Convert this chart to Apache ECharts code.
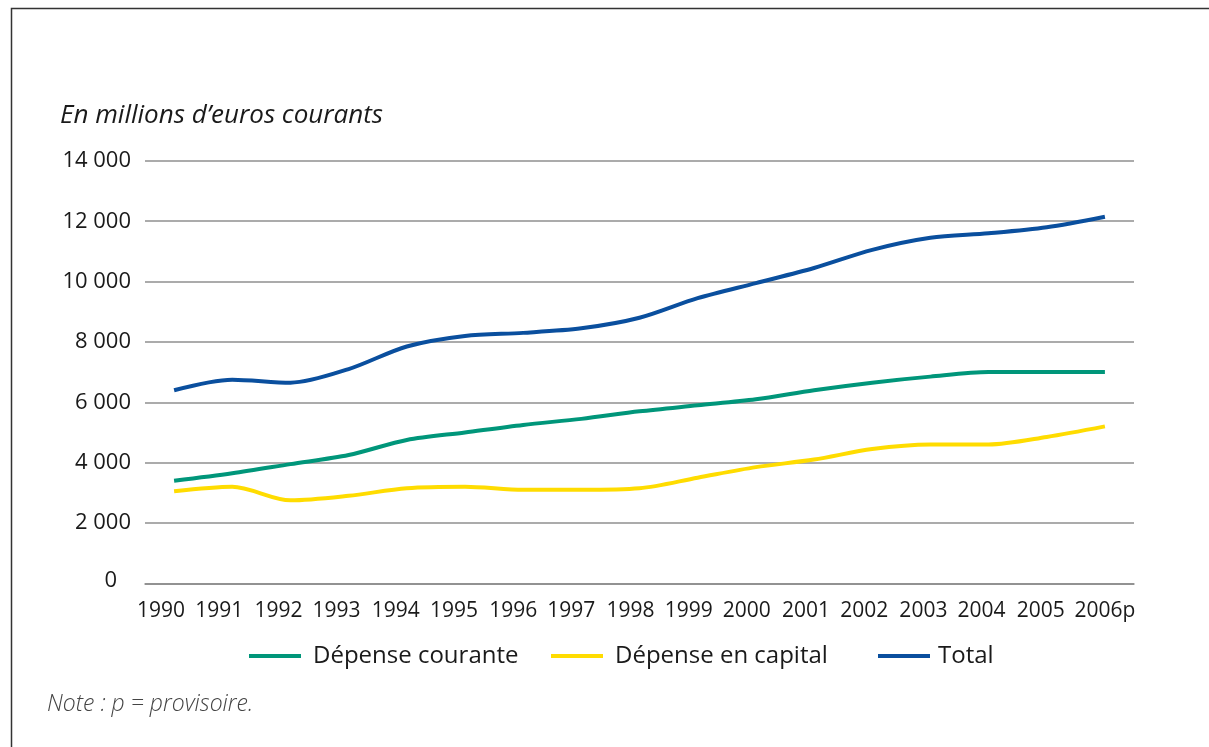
<!DOCTYPE html>
<html>
<head>
<meta charset="utf-8">
<script src="https://cdn.jsdelivr.net/npm/echarts@6/dist/echarts.min.js"></script>
<style>
  html, body { margin: 0; padding: 0; background: #fff; }
  #main { width: 1209px; height: 747px; }
</style>
</head>
<body>
<div id="main"></div>
<script>
// années (2006p = provisoire)
var years = ['1990', '1991', '1992', '1993', '1994', '1995', '1996', '1997', '1998',
  '1999', '2000', '2001', '2002', '2003', '2004', '2005', '2006p'];
// en millions d'euros courants
var courante = [3400, 3650, 3950, 4250, 4750, 5000, 5250, 5450, 5700, 5900, 6100, 6400, 6650, 6850, 7000, 7000, 7000];
var capital = [3050, 3200, 2750, 2900, 3150, 3200, 3100, 3100, 3150, 3500, 3850, 4100, 4450, 4600, 4600, 4850, 5200];
var total = [6400, 6750, 6650, 7100, 7850, 8200, 8300, 8450, 8800, 9450, 9950, 10450, 11050, 11450, 11600, 11800, 12150];
var yMin = 0, yMax = 14000, yStep = 2000;

var FONT = "'Open Sans', 'Noto Sans', sans-serif";
var cTeal = '#00967a', cYellow = '#ffdc00', cBlue = '#0a4f9e';

var chart = echarts.init(document.getElementById('main'), null, { renderer: 'canvas' });

function legendAt(name, left, gap) {
  return {
    data: [name],
    left: left - 5,
    top: 639,
    icon: 'rect',
    itemWidth: 52,
    itemHeight: 4,
    textStyle: { fontFamily: FONT, fontSize: 24, color: '#1a1a1a', padding: [0, 0, 0, gap] }
  };
}

// les étiquettes d'années d'Excel glissent un peu à gauche des graduations
var yearRich = {};
years.forEach(function (y, i) {
  var shift = i < years.length - 1 ? Math.round(13 - 0.45 * i) : 0;
  yearRich['y' + i] = { fontFamily: FONT, fontSize: 21, color: '#1a1a1a', padding: [0, shift * 2, 0, 0] };
});

var option = {
  animation: false,
  backgroundColor: '#fff',
  graphic: [
    { // cadre
      type: 'rect',
      shape: { x: 11.5, y: 8.5, width: 1400, height: 900 },
      style: { fill: 'none', stroke: '#333', lineWidth: 1.5 }
    },
    {
      type: 'text',
      left: 60, top: 103,
      style: { text: 'En millions d\u2019euros courants', font: 'italic 26px ' + FONT, fill: '#1a1a1a' }
    },
    {
      type: 'text',
      left: 47, top: 693,
      style: { text: 'Note : p = provisoire.', font: 'italic 300 23px ' + FONT, fill: '#444' }
    }
  ],
  legend: [
    legendAt('Dépense courante', 249, 7),
    legendAt('Dépense en capital', 551, 7),
    legendAt('Total', 878, 3)
  ],
  grid: { left: 145, right: 75, top: 160.9, bottom: 163.7, containLabel: false },
  xAxis: {
    type: 'category',
    data: years,
    boundaryGap: true,
    axisLine: { lineStyle: { color: '#8a8a8a', width: 1.5 } },
    axisTick: { alignWithLabel: true, length: 5, lineStyle: { color: '#8a8a8a', width: 1.5 } },
    axisLabel: {
      fontFamily: FONT, fontSize: 21, color: '#1a1a1a', margin: 17, interval: 0,
      formatter: function (v, i) { return '{y' + i + '|' + v + '}'; },
      rich: yearRich
    },
    splitLine: { show: false }
  },
  yAxis: {
    type: 'value',
    min: yMin, max: yMax, interval: yStep,
    axisLine: { show: false },
    axisTick: { show: false },
    axisLabel: {
      fontFamily: FONT, fontSize: 22, color: '#1a1a1a', margin: 14,
      formatter: function (v) {
        if (v === 0) return '{z|0}';
        return String(v).replace(/\B(?=(\d{3})+(?!\d))/g, ' ');
      },
      rich: { z: { fontFamily: FONT, fontSize: 22, color: '#1a1a1a', padding: [0, 14, 6, 0] } }
    },
    splitLine: { lineStyle: { color: '#8f8f8f', width: 1.5 } }
  },
  series: [
    {
      name: 'Dépense courante', type: 'line', data: courante, smooth: 0.3,
      showSymbol: false, lineStyle: { color: cTeal, width: 4 }, itemStyle: { color: cTeal }
    },
    {
      name: 'Dépense en capital', type: 'line', data: capital, smooth: 0.3,
      showSymbol: false, lineStyle: { color: cYellow, width: 4 }, itemStyle: { color: cYellow }
    },
    {
      name: 'Total', type: 'line', data: total, smooth: 0.3,
      showSymbol: false, lineStyle: { color: cBlue, width: 4 }, itemStyle: { color: cBlue }
    }
  ]
};

chart.setOption(option);
</script>
</body>
</html>
